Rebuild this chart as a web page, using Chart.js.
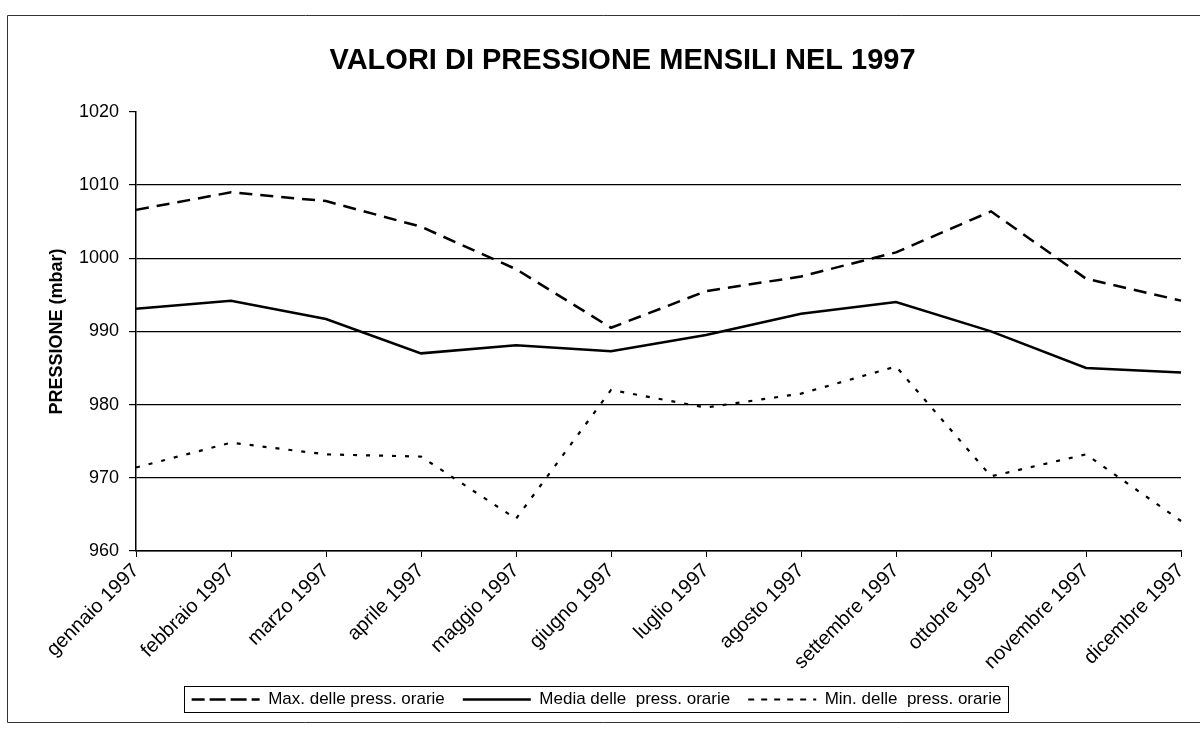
<!DOCTYPE html>
<html>
<head>
<meta charset="utf-8">
<script src="https://cdn.jsdelivr.net/npm/chart.js@4.4.0/dist/chart.umd.min.js"></script>
<style>
    html, body { margin: 0; padding: 0; background: #fff; }
</style>
</head>
<body>
<canvas id="myChart" width="1200" height="734"></canvas>
<script>
const mesi = ['gennaio 1997', 'febbraio 1997', 'marzo 1997', 'aprile 1997', 'maggio 1997', 'giugno 1997',
    'luglio 1997', 'agosto 1997', 'settembre 1997', 'ottobre 1997', 'novembre 1997', 'dicembre 1997'];
const pressMax = [1006.6, 1009.0, 1007.8, 1004.3, 998.5, 990.5, 995.5, 997.5, 1000.8, 1006.4, 997.2, 994.2];
const pressMedia = [993.1, 994.2, 991.7, 987.0, 988.1, 987.3, 989.5, 992.4, 994.0, 990.0, 985.0, 984.4];
const pressMin = [971.4, 974.8, 973.2, 972.9, 964.4, 982.0, 979.6, 981.5, 985.2, 970.2, 973.2, 964.1];
const asseYmin = 960;
const asseYmax = 1020;
const passoY = 10;

Chart.defaults.font.family = '"Liberation Sans", Arial, sans-serif';
Chart.defaults.color = '#000';

// cornice esterna, riquadro della legenda, titolo spostato a destra come nell'originale
const cornice = {
    id: 'cornice',
    afterLayout(c) {
        if (c.titleBlock) {
            c.titleBlock.left += 26;
            c.titleBlock.right += 26;
        }
    },
    beforeDraw(c) {
        const g = c.ctx;
        g.save();
        g.strokeStyle = '#333';
        g.lineWidth = 1;
        g.beginPath();
        g.moveTo(1200, 15.5);
        g.lineTo(7.5, 15.5);
        g.lineTo(7.5, 722.5);
        g.lineTo(1200, 722.5);
        g.stroke();
        g.restore();
    },
    afterDraw(c) {
        const hb = c.legend.legendHitBoxes;
        if (!hb || !hb.length) return;
        const x0 = Math.min(...hb.map(b => b.left)) - 8;
        const x1 = Math.max(...hb.map(b => b.left + b.width)) + 6;
        const y0 = hb[0].top - 5;
        const y1 = hb[0].top + hb[0].height + 4;
        const g = c.ctx;
        g.save();
        g.strokeStyle = '#000';
        g.lineWidth = 1;
        g.strokeRect(Math.round(x0) + 0.5, Math.round(y0) + 0.5, Math.round(x1 - x0), Math.round(y1 - y0));
        g.restore();
    }
};

const ctx = document.getElementById('myChart');

new Chart(ctx, {
    type: 'line',
    data: {
        labels: mesi,
        datasets: [{
            label: 'Max. delle press. orarie',
            data: pressMax,
            borderColor: '#000',
            backgroundColor: 'transparent',
            borderWidth: 2.5,
            borderDash: [13, 8],
            pointRadius: 0,
            tension: 0
        }, {
            label: 'Media delle  press. orarie',
            data: pressMedia,
            borderColor: '#000',
            backgroundColor: 'transparent',
            borderWidth: 2.5,
            pointRadius: 0,
            tension: 0
        }, {
            label: 'Min. delle  press. orarie',
            data: pressMin,
            borderColor: '#000',
            backgroundColor: 'transparent',
            borderWidth: 2.2,
            borderDash: [4, 9],
            pointRadius: 0,
            tension: 0
        }]
    },
    options: {
        responsive: false,
        animation: false,
        layout: {
            padding: { top: 8, left: 10, right: 17, bottom: 16 }
        },
        plugins: {
            title: {
                display: true,
                text: 'VALORI DI PRESSIONE MENSILI NEL 1997',
                color: '#000',
                font: { size: 29, weight: 'bold' },
                padding: { top: 36, bottom: 33 }
            },
            legend: {
                position: 'bottom',
                labels: {
                    boxWidth: 68,
                    boxHeight: 0,
                    color: '#000',
                    font: { size: 17 },
                    padding: 18
                }
            },
            tooltip: { enabled: false }
        },
        scales: {
            x: {
                afterFit: s => { s.height = 122; },
                grid: {
                    drawOnChartArea: false,
                    color: '#000',
                    tickLength: 6
                },
                border: { color: '#000', width: 1.5 },
                ticks: {
                    color: '#000',
                    font: { size: 20 },
                    maxRotation: 45,
                    minRotation: 45,
                    autoSkip: false,
                    padding: 2
                }
            },
            y: {
                min: asseYmin,
                max: asseYmax,
                afterFit: s => { s.width = 126; },
                title: {
                    display: true,
                    text: 'PRESSIONE (mbar)',
                    color: '#000',
                    font: { size: 18, weight: 'bold' },
                    padding: { top: 36 }
                },
                grid: {
                    color: c => (c.tick && c.tick.value === asseYmax) ? 'rgba(0,0,0,0)' : '#000',
                    tickColor: '#000',
                    lineWidth: 1.2,
                    tickLength: 7
                },
                border: { color: '#000', width: 1.5 },
                ticks: {
                    stepSize: passoY,
                    color: '#000',
                    font: { size: 18 },
                    padding: 10,
                    callback: v => String(v)
                }
            }
        }
    },
    plugins: [cornice]
});
</script>
</body>
</html>
